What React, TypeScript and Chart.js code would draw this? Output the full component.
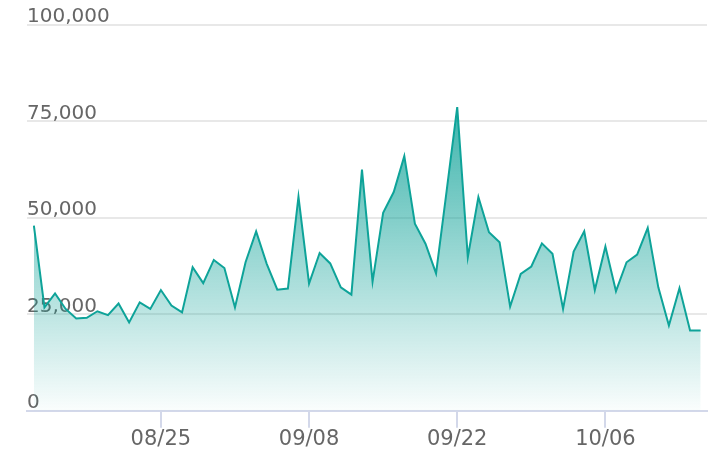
import { useEffect, useRef } from 'react';
import { Chart, registerables } from 'chart.js';

Chart.register(...registerables);

// Daily series starting 08/13 (64 days, through 10/15)
const startYear = 2024;
const startMonth = 8;
const startDay = 13;

const values = [
  48000, 26800, 30400, 26400, 23900, 24100, 25800, 24800, 27800, 22900,
  28100, 26400, 31300, 27300, 25500, 37200, 33100, 39100, 37000, 26800,
  38500, 46500, 38100, 31400, 31700, 55500, 33000, 40900, 38200, 32000,
  30100, 62500, 33500, 51300, 56700, 66000, 48500, 43300, 35600, 57000,
  78700, 39800, 55400, 46300, 43700, 27000, 35500, 37400, 43400, 40700,
  26400, 41300, 46500, 31300, 42600, 31000, 38500, 40500, 47400, 32000,
  22100, 31800, 20800, 20800,
];

const xTickLabels = ['08/25', '09/08', '09/22', '10/06'];
const yMin = 0;
const yMax = 100000;
const yStep = 25000;

const pad = (n: number) => (n < 10 ? '0' + n : '' + n);
const dayLabels = values.map((_, i) => {
  const d = new Date(startYear, startMonth - 1, startDay + i);
  return pad(d.getMonth() + 1) + '/' + pad(d.getDate());
});

export default function App() {
  const ref = useRef<HTMLCanvasElement | null>(null);

  useEffect(() => {
    if (!ref.current) return;
    const chart = new Chart(ref.current, {
      type: 'line',
      data: {
        datasets: [
          {
            data: values.map((v, i) => ({ x: i, y: v })),
            borderColor: 'rgb(14,163,153)',
            borderWidth: 2,
            pointRadius: 0,
            tension: 0,
            fill: 'start',
            backgroundColor: (ctx: any) => {
              const area = ctx.chart.chartArea;
              if (!area) return 'rgba(14,163,153,0.4)';
              const g = ctx.chart.ctx.createLinearGradient(0, area.top, 0, area.bottom);
              g.addColorStop(0, 'rgba(10,160,150,1)');
              g.addColorStop(1, 'rgba(10,160,150,0.02)');
              return g;
            },
          },
        ],
      },
      options: {
        animation: false,
        responsive: true,
        maintainAspectRatio: false,
        layout: { padding: { left: 27, right: 13, top: 25, bottom: 21 } },
        plugins: { legend: { display: false }, tooltip: { enabled: false } },
        scales: {
          x: {
            type: 'linear',
            min: -0.65,
            max: 63.6,
            afterBuildTicks: (axis: any) => {
              axis.ticks = dayLabels
                .map((l, i) => ({ l, i }))
                .filter((o) => xTickLabels.includes(o.l))
                .map((o) => ({ value: o.i }));
            },
            ticks: {
              autoSkip: false,
              maxRotation: 0,
              padding: -1,
              color: '#666',
              font: { family: 'DejaVu Sans', size: 21 },
              callback: (v: any) => dayLabels[Math.round(Number(v))] ?? '',
            },
            grid: {
              display: true,
              drawOnChartArea: false,
              drawTicks: true,
              tickLength: 17,
              color: '#d3d8ea',
              lineWidth: 2,
            },
            border: { display: true, color: '#d3d8ea', width: 2 },
          },
          y: {
            min: yMin,
            max: yMax,
            z: 1,
            ticks: {
              stepSize: yStep,
              mirror: true,
              padding: 0,
              labelOffset: -8,
              color: '#666',
              font: { family: 'DejaVu Sans', size: 20 },
            },
            grid: { drawTicks: false, color: 'rgba(0,0,0,0.09)', lineWidth: 2 },
            border: { display: false },
          },
        },
      } as any,
    });
    return () => chart.destroy();
  }, []);

  return (
    <div style={{ position: 'fixed', left: 0, top: 0, width: 720, height: 472 }}>
      <canvas ref={ref} />
    </div>
  );
}
